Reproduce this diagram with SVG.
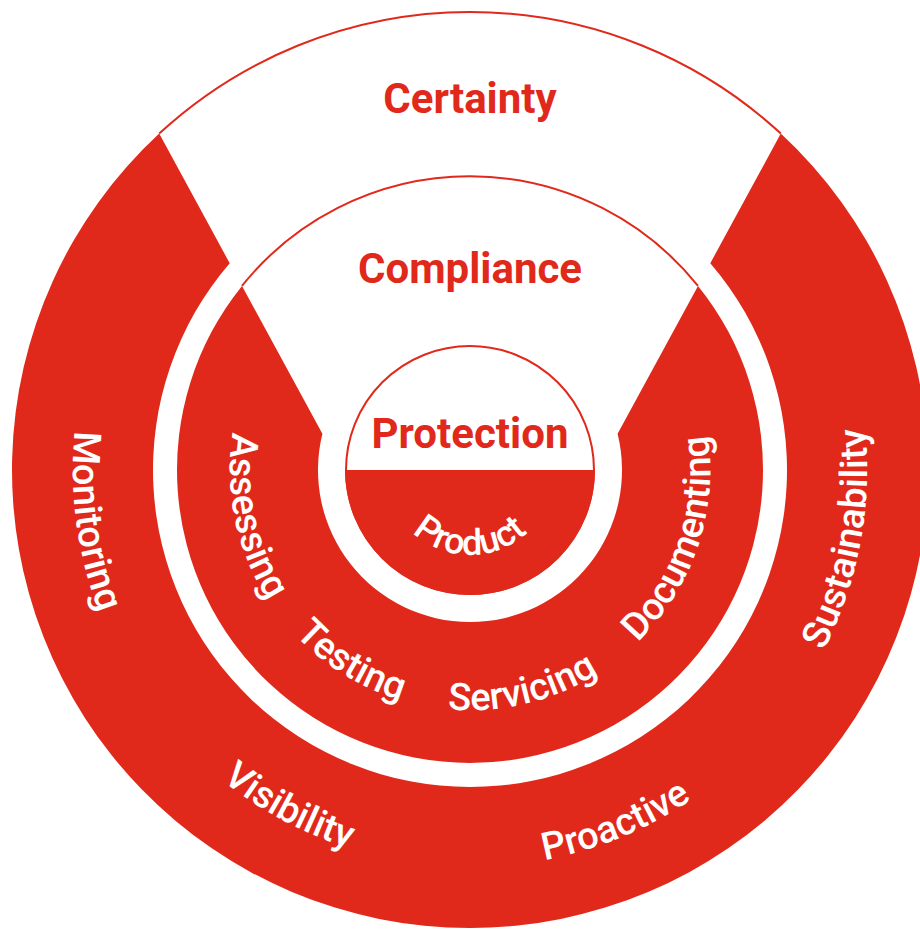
<svg xmlns="http://www.w3.org/2000/svg" width="920" height="930" viewBox="0 0 920 930">
<style>
.red{fill:#E1291B}
.line{fill:none;stroke:#E1291B;stroke-width:2}
.title{font-family:Roboto,"Liberation Sans",sans-serif;font-weight:700;font-size:42px;fill:#E1291B;text-anchor:middle}
.lbl{font-family:Roboto,"Liberation Sans",sans-serif;font-weight:500;font-size:38px;fill:#fff;text-anchor:middle}
.sm{font-size:36px}
</style>
<defs>
<path id="arcO" d="M79.0,538.9 A397,397 0 0 0 861.0,538.9"/>
<path id="arcM" d="M233.6,511.7 A240,240 0 0 0 706.4,511.7"/>
<path id="arcI" d="M386.3,484.8 A85,85 0 0 0 553.7,484.8"/>
</defs>
<rect width="920" height="930" fill="#fff"/>
<g id="outer-ring">
<path class="red" d="M229.7,263.2 L159.2,133.6 A458,458 0 1 0 780.8,133.6 L710.3,263.2 A317,317 0 1 1 229.7,263.2 Z"/>
<path class="line" d="M159.2,133.6 A458,458 0 0 1 780.8,133.6"/>
</g>
<g id="middle-ring">
<path class="red" d="M322.4,433.7 L242.0,285.9 A293,293 0 1 0 698.0,285.9 L617.6,433.7 A152,152 0 1 1 322.4,433.7 Z"/>
<path class="line" d="M242.0,285.9 A292,292 0 0 1 698.0,285.9"/>
</g>
<g id="inner-circle">
<circle cx="470" cy="470" r="124" fill="#fff" stroke="#E1291B" stroke-width="2"/>
<path class="red" d="M345,470 A125,125 0 0 0 595,470 Z"/>
</g>
<g id="certainty"><text class="title" x="470" y="113">Certainty</text></g>
<g id="compliance"><text class="title" x="470" y="283">Compliance</text></g>
<g id="protection"><text class="title" x="470" y="448">Protection</text></g>
<g id="monitoring" transform="rotate(82.3 470 470)"><text class="lbl"><textPath href="#arcO" startOffset="50%">Monitoring</textPath></text></g>
<g id="visibility" transform="rotate(28.2 470 470)"><text class="lbl"><textPath href="#arcO" startOffset="50%">Visibility</textPath></text></g>
<g id="proactive" transform="rotate(-22.4 470 470)"><text class="lbl"><textPath href="#arcO" startOffset="50%">Proactive</textPath></text></g>
<g id="sustainability" transform="rotate(-79.5 470 470)"><text class="lbl"><textPath href="#arcO" startOffset="50%">Sustainability</textPath></text></g>
<g id="assessing" transform="rotate(78 470 470)"><text class="lbl"><textPath href="#arcM" startOffset="50%">Assessing</textPath></text></g>
<g id="testing" transform="rotate(31.8 470 470)"><text class="lbl"><textPath href="#arcM" startOffset="50%">Testing</textPath></text></g>
<g id="servicing" transform="rotate(-13.5 470 470)"><text class="lbl"><textPath href="#arcM" startOffset="50%">Servicing</textPath></text></g>
<g id="documenting" transform="rotate(-71.3 470 470)"><text class="lbl"><textPath href="#arcM" startOffset="50%">Documenting</textPath></text></g>
<g id="product"><text class="lbl sm"><textPath href="#arcI" startOffset="50%">Product</textPath></text></g>
</svg>
